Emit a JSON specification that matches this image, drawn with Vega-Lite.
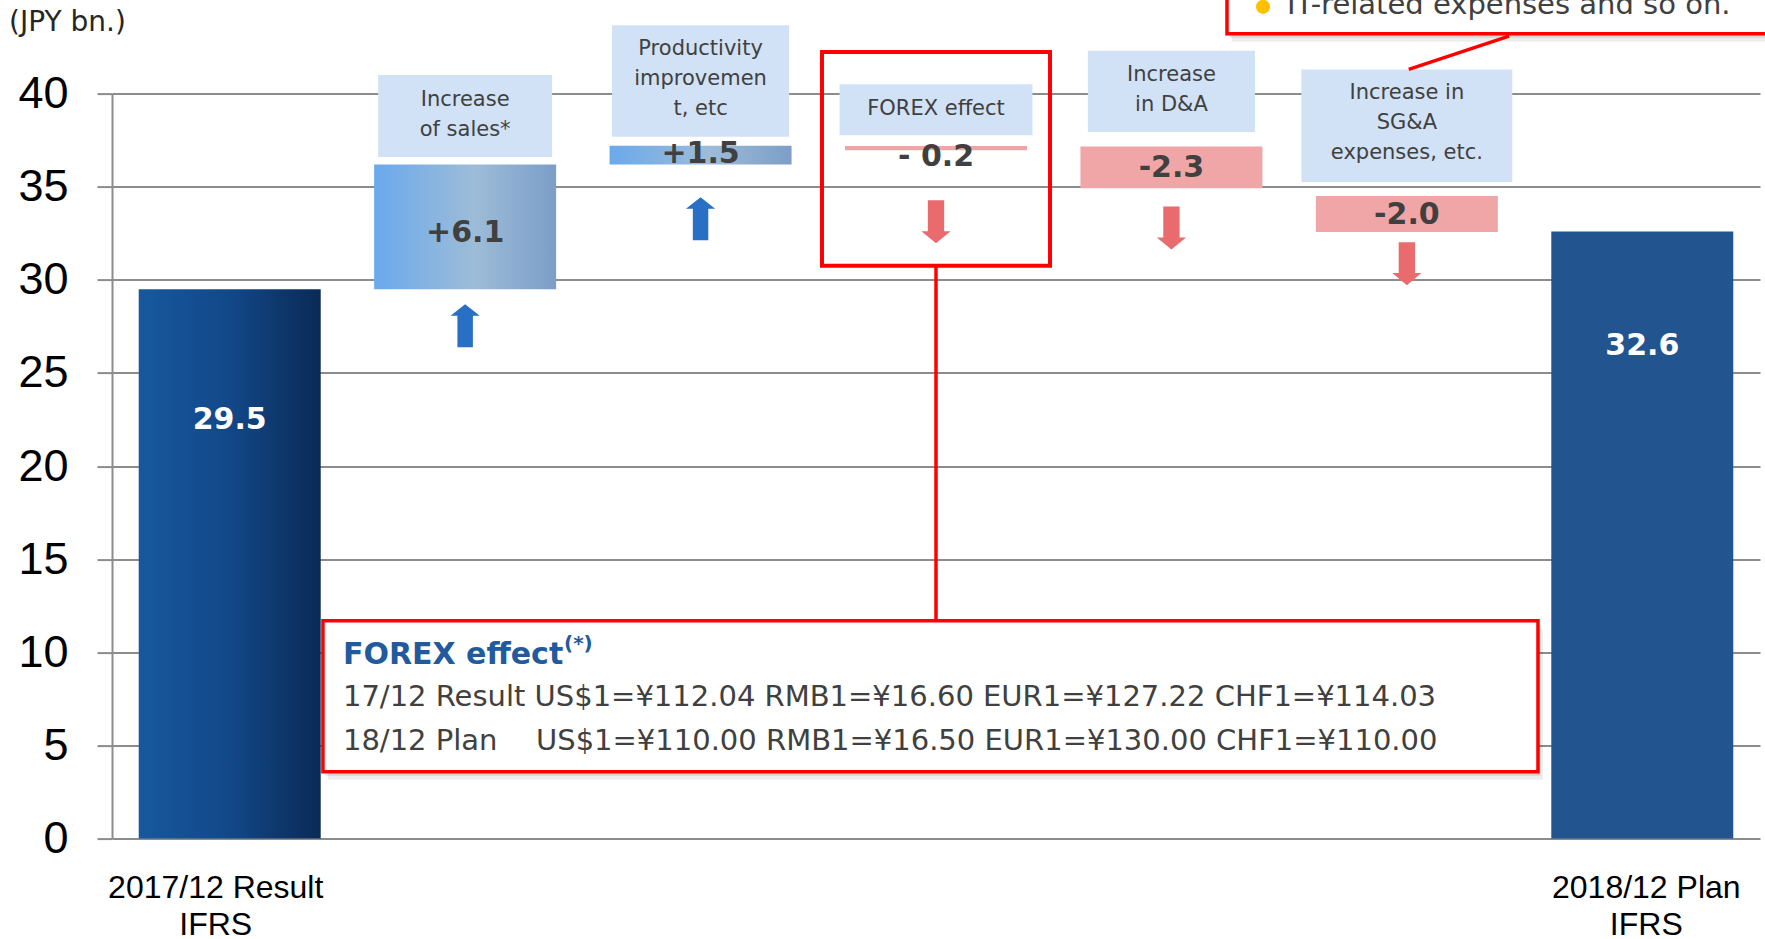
{
  "$schema": "https://vega.github.io/schema/vega-lite/v6.json",
  "width": 1648,
  "height": 745,
  "autosize": {"type": "none"},
  "padding": {"left": 112, "top": 93.6, "right": 5, "bottom": 100.4},
  "background": "#ffffff",
  "config": {"view": {"stroke": null}},
  "datasets": {
    "steps": [
      {"cat": "2017/12 Result IFRS", "kind": "result", "y0": 0, "y1": 29.5, "label": "29.5", "label_y": 22.5},
      {"cat": "Increase of sales", "kind": "up", "y0": 29.5, "y1": 36.2, "label": "+6.1", "label_y": 32.5, "arrow_y": 27.54},
      {"cat": "Productivity improvement", "kind": "up", "y0": 36.2, "y1": 37.2, "label": "+1.5", "label_y": 36.75, "arrow_y": 33.28},
      {"cat": "FOREX effect", "kind": "down", "y0": 36.96, "y1": 37.18, "label": "- 0.2", "label_y": 36.6, "arrow_y": 33.12},
      {"cat": "Increase in D&A", "kind": "down", "y0": 34.92, "y1": 37.16, "label": "-2.3", "label_y": 36.0, "arrow_y": 32.78},
      {"cat": "Increase in SG&A", "kind": "down", "y0": 32.57, "y1": 34.5, "label": "-2.0", "label_y": 33.47, "arrow_y": 30.87},
      {"cat": "2018/12 Plan IFRS", "kind": "plan", "y0": 0, "y1": 32.6, "label": "32.6", "label_y": 26.46}
    ],
    "notes": [
      {"cat": "Increase of sales", "note": "Increase\nof sales*", "lo": 36.6, "hi": 41.0, "first_line_y": 39.66},
      {"cat": "Productivity improvement", "note": "Productivity\nimprovemen\nt, etc", "lo": 37.68, "hi": 43.67, "first_line_y": 42.38},
      {"cat": "FOREX effect", "note": "FOREX effect", "lo": 37.77, "hi": 40.5, "first_line_y": 39.19},
      {"cat": "Increase in D&A", "note": "Increase\nin D&A", "lo": 37.94, "hi": 42.3, "first_line_y": 41.0},
      {"cat": "Increase in SG&A", "note": "Increase in\nSG&A\nexpenses, etc.", "lo": 35.26, "hi": 41.29, "first_line_y": 40.02}
    ],
    "callouts": [
      {"name": "FOREX rates", "x": 0.896, "x2": 6.057, "y": 3.59, "y2": 11.7},
      {"name": "IT note", "x": 4.736, "x2": 7.3, "y": 43.22, "y2": 46.2}
    ],
    "texts": [
      {"text": "17/12 Result US$1=¥112.04 RMB1=¥16.60 EUR1=¥127.22 CHF1=¥114.03", "x": 0.981, "y": 7.58},
      {"text": "18/12 Plan", "x": 0.981, "y": 5.26},
      {"text": "US$1=¥110.00 RMB1=¥16.50 EUR1=¥130.00 CHF1=¥110.00", "x": 1.801, "y": 5.26},
      {"text": "IT-related expenses and so on.", "x": 4.991, "y": 44.77}
    ]
  },
  "resolve": {"scale": {"x": "independent"}},
  "layer": [
    {
      "data": {"name": "steps"},
      "encoding": {
        "x": {
          "field": "cat", "type": "nominal", "sort": null,
          "scale": {
            "domain": ["2017/12 Result IFRS", "Increase of sales", "Productivity improvement", "FOREX effect", "Increase in D&A", "Increase in SG&A", "2018/12 Plan IFRS"],
            "paddingInner": 0.227, "paddingOuter": 0.1135
          },
          "axis": {
            "title": null, "domain": false, "ticks": false, "tickSize": 0, "grid": false,
            "labelFont": "Liberation Sans", "labelFontSize": 32, "labelColor": "#000000",
            "labelPadding": 34, "labelBaseline": "top", "labelLineHeight": 37,
            "labelLimit": 1000, "labelOverlap": false, "labelAngle": 0,
            "labelExpr": "datum.value == '2017/12 Result IFRS' ? ['2017/12 Result', 'IFRS'] : datum.value == '2018/12 Plan IFRS' ? ['2018/12 Plan', 'IFRS'] : ''",
            "labelOffset": {"condition": {"test": "datum.value == '2017/12 Result IFRS'", "value": -14}, "value": 4}
          }
        }
      },
      "layer": [
        {
          "transform": [{"filter": "datum.kind == 'result'"}],
          "mark": {"type": "bar", "color": {"gradient": "linear", "x1": 0, "y1": 0, "x2": 1, "y2": 0, "stops": [{"offset": 0, "color": "#17589d"}, {"offset": 0.5, "color": "#124888"}, {"offset": 1, "color": "#0a2a56"}]}},
          "encoding": {
            "y": {
              "field": "y0", "type": "quantitative",
              "scale": {"domain": [0, 40], "nice": false, "zero": true},
              "axis": {
                "title": null, "values": [0, 5, 10, 15, 20, 25, 30, 35, 40],
                "grid": true, "gridColor": "#8c8c8c", "gridWidth": 2,
                "domain": true, "domainColor": "#8c8c8c", "domainWidth": 2,
                "ticks": true, "tickSize": 15, "tickColor": "#8c8c8c", "tickWidth": 2,
                "labelFont": "Liberation Sans", "labelFontSize": 45, "labelColor": "#000000", "labelPadding": 29
              }
            },
            "y2": {"field": "y1"}
          }
        },
        {
          "transform": [{"filter": "datum.kind == 'up'"}],
          "mark": {"type": "bar", "color": {"gradient": "linear", "x1": 0, "y1": 0, "x2": 1, "y2": 0, "stops": [{"offset": 0, "color": "#6aa9ec"}, {"offset": 0.55, "color": "#9dbcd8"}, {"offset": 1, "color": "#7c9ec7"}]}},
          "encoding": {"y": {"field": "y0", "type": "quantitative"}, "y2": {"field": "y1"}}
        },
        {
          "transform": [{"filter": "datum.kind == 'down'"}],
          "mark": {"type": "bar", "color": "#f0a6a6"},
          "encoding": {"y": {"field": "y0", "type": "quantitative"}, "y2": {"field": "y1"}}
        },
        {
          "transform": [{"filter": "datum.kind == 'plan'"}],
          "mark": {"type": "bar", "color": "#22558f"},
          "encoding": {"y": {"field": "y0", "type": "quantitative"}, "y2": {"field": "y1"}}
        },
        {
          "mark": {"type": "text", "font": "DejaVu Sans", "fontWeight": "bold", "fontSize": 30, "align": "center", "baseline": "middle"},
          "encoding": {
            "y": {"field": "label_y", "type": "quantitative"},
            "text": {"field": "label"},
            "color": {"condition": {"test": "datum.kind == 'result' || datum.kind == 'plan'", "value": "#ffffff"}, "value": "#404040"}
          }
        },
        {
          "transform": [{"filter": "datum.kind == 'up'"}],
          "mark": {"type": "point", "filled": true, "opacity": 1, "strokeWidth": 0, "size": 1849, "color": "#2870c5",
                   "shape": "M0,-1 L0.68,-0.46 L0.36,-0.46 L0.36,1 L-0.36,1 L-0.36,-0.46 L-0.68,-0.46 Z"},
          "encoding": {"y": {"field": "arrow_y", "type": "quantitative"}}
        },
        {
          "transform": [{"filter": "datum.kind == 'down'"}],
          "mark": {"type": "point", "filled": true, "opacity": 1, "strokeWidth": 0, "size": 1849, "color": "#ea6b6e",
                   "shape": "M0,1 L0.68,0.44 L0.38,0.44 L0.38,-1 L-0.38,-1 L-0.38,0.44 L-0.68,0.44 Z"},
          "encoding": {"y": {"field": "arrow_y", "type": "quantitative"}}
        },
        {
          "data": {"name": "notes"},
          "transform": [{"filter": "datum.cat == 'Increase of sales'"}],
          "mark": {"type": "bar", "color": "#d1e2f6", "width": {"band": 0.956}},
          "encoding": {"y": {"field": "lo", "type": "quantitative"}, "y2": {"field": "hi"}}
        },
        {
          "data": {"name": "notes"},
          "transform": [{"filter": "datum.cat == 'Productivity improvement'"}],
          "mark": {"type": "bar", "color": "#d1e2f6", "width": {"band": 0.973}},
          "encoding": {"y": {"field": "lo", "type": "quantitative"}, "y2": {"field": "hi"}}
        },
        {
          "data": {"name": "notes"},
          "transform": [{"filter": "datum.cat == 'FOREX effect'"}],
          "mark": {"type": "bar", "color": "#d1e2f6", "width": {"band": 1.06}},
          "encoding": {"y": {"field": "lo", "type": "quantitative"}, "y2": {"field": "hi"}}
        },
        {
          "data": {"name": "notes"},
          "transform": [{"filter": "datum.cat == 'Increase in D&A'"}],
          "mark": {"type": "bar", "color": "#d1e2f6", "width": {"band": 0.918}},
          "encoding": {"y": {"field": "lo", "type": "quantitative"}, "y2": {"field": "hi"}}
        },
        {
          "data": {"name": "notes"},
          "transform": [{"filter": "datum.cat == 'Increase in SG&A'"}],
          "mark": {"type": "bar", "color": "#d1e2f6", "width": {"band": 1.159}},
          "encoding": {"y": {"field": "lo", "type": "quantitative"}, "y2": {"field": "hi"}}
        },
        {
          "data": {"name": "notes"},
          "mark": {"type": "text", "font": "DejaVu Sans", "fontSize": 21, "color": "#404040", "align": "center", "baseline": "middle", "lineBreak": "\n", "lineHeight": 30},
          "encoding": {"y": {"field": "first_line_y", "type": "quantitative"}, "text": {"field": "note"}}
        },
        {
          "data": {"values": [{"cat": "FOREX effect", "lo": 30.76, "hi": 42.24, "link_lo": 11.7}]},
          "mark": {"type": "bar", "filled": false, "color": "#ff0000", "strokeWidth": 4, "width": {"band": 1.253}},
          "encoding": {"y": {"field": "lo", "type": "quantitative"}, "y2": {"field": "hi"}}
        },
        {
          "data": {"values": [{"cat": "FOREX effect", "lo": 30.76, "hi": 42.24, "link_lo": 11.7}]},
          "mark": {"type": "rule", "color": "#ff0000", "strokeWidth": 3.5},
          "encoding": {"y": {"field": "link_lo", "type": "quantitative"}, "y2": {"field": "lo"}}
        }
      ]
    },
    {
      "encoding": {
        "x": {"field": "x", "type": "quantitative", "scale": {"domain": [0, 7], "nice": false, "zero": false}, "axis": null}
      },
      "layer": [
        {
          "data": {"name": "callouts"},
          "mark": {"type": "rect", "color": "#000000", "opacity": 0.07, "xOffset": 5, "x2Offset": 5, "yOffset": 8, "y2Offset": 8},
          "encoding": {"x2": {"field": "x2"}, "y": {"field": "y", "type": "quantitative"}, "y2": {"field": "y2"}}
        },
        {
          "data": {"name": "callouts"},
          "mark": {"type": "rect", "color": "#000000", "opacity": 0.1, "xOffset": 2.5, "x2Offset": 2.5, "yOffset": 4, "y2Offset": 4},
          "encoding": {"x2": {"field": "x2"}, "y": {"field": "y", "type": "quantitative"}, "y2": {"field": "y2"}}
        },
        {
          "data": {"name": "callouts"},
          "mark": {"type": "rect", "fill": "#ffffff", "stroke": "#ff0000", "strokeWidth": 3.5},
          "encoding": {"x2": {"field": "x2"}, "y": {"field": "y", "type": "quantitative"}, "y2": {"field": "y2"}}
        },
        {
          "data": {"values": [{"x": 5.508, "x2": 5.934, "y": 41.3, "y2": 43.09}]},
          "mark": {"type": "rule", "color": "#ff0000", "strokeWidth": 3.5},
          "encoding": {"x2": {"field": "x2"}, "y": {"field": "y", "type": "quantitative"}, "y2": {"field": "y2"}}
        },
        {
          "data": {"values": [{"x": 4.889, "y": 44.66}]},
          "mark": {"type": "point", "filled": true, "opacity": 1, "color": "#ffc000", "size": 200},
          "encoding": {"y": {"field": "y", "type": "quantitative"}}
        },
        {
          "data": {"name": "texts"},
          "mark": {"type": "text", "font": "DejaVu Sans", "fontSize": 29, "color": "#404040", "align": "left", "baseline": "middle"},
          "encoding": {"y": {"field": "y", "type": "quantitative"}, "text": {"field": "text"}}
        },
        {
          "data": {"values": [{"text": "FOREX effect", "x": 0.981, "y": 9.85}]},
          "mark": {"type": "text", "font": "DejaVu Sans", "fontWeight": "bold", "fontSize": 30, "color": "#225a9e", "align": "left", "baseline": "middle"},
          "encoding": {"y": {"field": "y", "type": "quantitative"}, "text": {"field": "text"}}
        },
        {
          "data": {"values": [{"text": "(*)", "x": 1.92, "y": 10.46}]},
          "mark": {"type": "text", "font": "DejaVu Sans", "fontWeight": "bold", "fontSize": 20, "color": "#225a9e", "align": "left", "baseline": "middle"},
          "encoding": {"y": {"field": "y", "type": "quantitative"}, "text": {"field": "text"}}
        },
        {
          "data": {"values": [{"text": "(JPY bn.)", "x": -0.4375, "y": 43.79}]},
          "mark": {"type": "text", "font": "DejaVu Sans", "fontSize": 28, "color": "#262626", "align": "left", "baseline": "middle"},
          "encoding": {"y": {"field": "y", "type": "quantitative"}, "text": {"field": "text"}}
        }
      ]
    }
  ]
}
